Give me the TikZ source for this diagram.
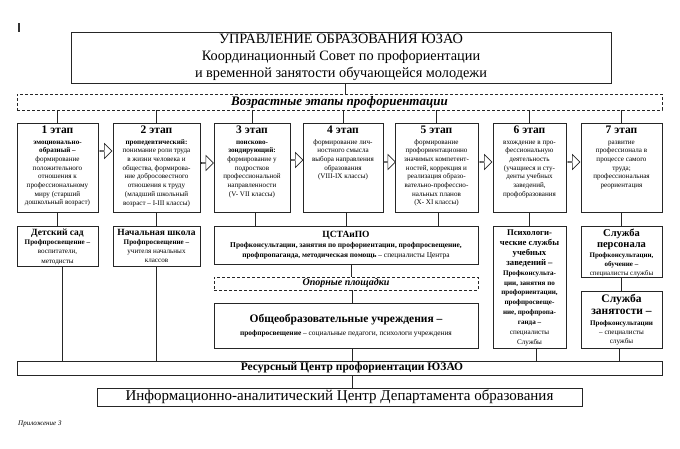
\documentclass[tikz,border=0pt]{standalone}
\usepackage{fontspec}
\setmainfont{Liberation Serif}
\usetikzlibrary{shapes.arrows,calc}
\begin{document}
\begin{tikzpicture}[x=1pt,y=-1pt,
 box/.style={draw=black!85, line width=0.8pt, rectangle, inner sep=0pt, fill=white},
 dbox/.style={draw=black!85, line width=0.7pt, dash pattern=on 3pt off 2pt, rectangle, inner sep=0pt},
 conn/.style={draw=black!85, line width=0.7pt},
 txt/.style={align=center, inner sep=0pt, anchor=north, font=\fontsize{7.1}{8.7}\selectfont},
 sarrow/.style={single arrow, draw=black!85, fill=white, line width=0.6pt, minimum height=12pt, minimum width=15pt, single arrow head extend=3pt, inner sep=0pt},
]
\useasboundingbox[fill=white] (0,0) rectangle (680,448);

% cursor mark
\draw[line width=1.2pt, black!80] (19,23) -- (19,32);

% top box
\node[box, minimum width=540pt, minimum height=51pt, align=center, font=\fontsize{14.3}{17}\selectfont] (top) at (341,57.5)
 {УПРАВЛЕНИЕ ОБРАЗОВАНИЯ ЮЗАО\\Координационный Совет по профориентации\\и временной занятости обучающейся молодежи};

% dashed age stages
\node[dbox, minimum width=645pt, minimum height=16pt, font=\fontsize{13}{14}\selectfont\bfseries\itshape] (stages) at (339.5,102) {Возрастные этапы профориентации};

% stage boxes
\node[box, minimum width=81pt, minimum height=89pt] (s1) at (57.5,167.5) {};
\node[box, minimum width=87pt, minimum height=89pt] (s2) at (156.5,167.5) {};
\node[box, minimum width=76pt, minimum height=89pt] (s3) at (252,167.5) {};
\node[box, minimum width=80pt, minimum height=89pt] (s4) at (343,167.5) {};
\node[box, minimum width=83pt, minimum height=89pt] (s5) at (436.5,167.5) {};
\node[box, minimum width=73pt, minimum height=89pt] (s6) at (529.5,167.5) {};
\node[box, minimum width=81pt, minimum height=89pt] (s7) at (621.5,167.5) {};

\node[txt] (s1t) at ([yshift=-3pt]s1.north) {{\fontsize{11.5}{12}\selectfont\bfseries 1 этап}\\[2pt]
 \textbf{эмоционально-}\\\textbf{образный –}\\формирование\\положительного\\отношения к\\профессиональному\\миру (старший\\дошкольный возраст)};
\node[txt] (s2t) at ([yshift=-3pt]s2.north) {{\fontsize{11.5}{12}\selectfont\bfseries 2 этап}\\[2pt]
 \textbf{пропедевтический:}\\понимание роли труда\\в жизни человека и\\общества, формирова-\\ние добросовестного\\отношения к труду\\(младший школьный\\возраст – I-III классы)};
\node[txt] (s3t) at ([yshift=-3pt]s3.north) {{\fontsize{11.5}{12}\selectfont\bfseries 3 этап}\\[2pt]
 \textbf{поисково-}\\\textbf{зондирующий:}\\формирование у\\подростков\\профессиональной\\направленности\\(V- VII классы)};
\node[txt] (s4t) at ([yshift=-3pt]s4.north) {{\fontsize{11.5}{12}\selectfont\bfseries 4 этап}\\[2pt]
 формирование лич-\\ностного смысла\\выбора направления\\образования\\(VIII-IX классы)};
\node[txt] (s5t) at ([yshift=-3pt]s5.north) {{\fontsize{11.5}{12}\selectfont\bfseries 5 этап}\\[2pt]
 формирование\\профориентационно\\значимых компетент-\\ностей, коррекция и\\реализация образо-\\вательно-профессио-\\нальных планов\\(X- XI классы)};
\node[txt] (s6t) at ([yshift=-3pt]s6.north) {{\fontsize{11.5}{12}\selectfont\bfseries 6 этап}\\[2pt]
 вхождение в про-\\фессиональную\\деятельность\\(учащиеся и сту-\\денты учебных\\заведений,\\профобразования};
\node[txt] (s7t) at ([yshift=-3pt]s7.north) {{\fontsize{11.5}{12}\selectfont\bfseries 7 этап}\\[2pt]
 развитие\\профессионала в\\процессе самого\\труда;\\профессиональная\\реориентация};

% block arrows between stages
\node[sarrow] (a12) at (105.5,151) {};
\node[sarrow] (a23) at (207,163) {};
\node[sarrow] (a34) at (296.5,160) {};
\node[sarrow] (a45) at (389,162) {};
\node[sarrow] (a56) at (485.5,162) {};
\node[sarrow] (a67) at (573.5,162) {};

% second row
\node[box, minimum width=81pt, minimum height=40pt] (det) at (57.5,246) {};
\node[txt, font=\fontsize{7.1}{9.3}\selectfont] (dett) at ([yshift=-3pt]det.north) {{\fontsize{9.5}{10}\selectfont\bfseries Детский сад}\\
 \textbf{Профпросвещение –}\\воспитатели,\\методисты};
\node[box, minimum width=87pt, minimum height=40pt] (nach) at (156.5,246) {};
\node[txt, font=\fontsize{7.1}{9.3}\selectfont] (nacht) at ([yshift=-3pt]nach.north) {{\fontsize{9.5}{10}\selectfont\bfseries Начальная школа}\\
 \textbf{Профпросвещение –}\\учителя начальных\\классов};

\node[box, minimum width=264pt, minimum height=38pt] (cst) at (346,245) {};
\node[txt, font=\fontsize{7.4}{9.8}\selectfont] (cstt) at ([yshift=-5pt]cst.north) {{\fontsize{9.5}{11}\selectfont\bfseries ЦСТАиПО}\\[1pt]
 \textbf{Профконсультации, занятия по профориентации, профпросвещение,}\\
 \textbf{профпропаганда, методическая помощь} – специалисты Центра};

\node[dbox, minimum width=264pt, minimum height=13pt, font=\fontsize{10}{11}\selectfont\bfseries\itshape] (op) at (346,283.5) {Опорные площадки};

\node[box, minimum width=264pt, minimum height=45pt, align=center, font=\fontsize{7.4}{13}\selectfont] (obsh) at (346,325.5)
 {{\fontsize{11.5}{13}\selectfont\bfseries Общеобразовательные учреждения –}\\
 \textbf{профпросвещение} – социальные педагоги, психологи учреждения};

\node[box, minimum width=73pt, minimum height=122pt] (psy) at (529.5,287) {};
\node[txt, font=\fontsize{7.1}{9.9}\selectfont] (psyt) at ([yshift=-4pt]psy.north) {{\fontsize{8.7}{9.9}\selectfont\bfseries Психологи-}\\
 {\fontsize{8.7}{9.9}\selectfont\bfseries ческие службы}\\{\fontsize{8.7}{9.9}\selectfont\bfseries учебных}\\{\fontsize{8.7}{9.9}\selectfont\bfseries заведений –}\\
 \textbf{Профконсульта-}\\\textbf{ции, занятия по}\\\textbf{профориентации,}\\\textbf{профпросвеще-}\\\textbf{ние, профпропа-}\\\textbf{ганда –}\\специалисты\\Службы};

\node[box, minimum width=81pt, minimum height=51pt] (pers) at (621.5,251.5) {};
\node[txt, font=\fontsize{7}{8.8}\selectfont] (perst) at ([yshift=-3pt]pers.north) {{\fontsize{10.5}{10}\selectfont\bfseries Служба}\\[2.5pt]{\fontsize{10.5}{10}\selectfont\bfseries персонала}\\[1pt]
 \textbf{Профконсультации,}\\\textbf{обучение –}\\специалисты службы};

\node[box, minimum width=81pt, minimum height=57pt] (zan) at (621.5,319.5) {};
\node[txt, font=\fontsize{7.1}{9.2}\selectfont] (zant) at ([yshift=-3pt]zan.north) {{\fontsize{11.5}{13}\selectfont\bfseries Служба}\\[3.5pt]{\fontsize{11.5}{13}\selectfont\bfseries занятости –}\\[1.5pt]
 \textbf{Профконсультации}\\– специалисты\\службы};

% bottom boxes
\node[box, minimum width=645pt, minimum height=14pt, font=\fontsize{11.5}{12}\selectfont\bfseries] (res) at (339.5,368) {\hspace*{25pt}Ресурсный Центр профориентации ЮЗАО};
\node[box, minimum width=485pt, minimum height=18pt, font=\fontsize{15}{16}\selectfont] (inf) at (339.5,397) {Информационно-аналитический Центр Департамента образования};

\node[anchor=west, inner sep=0pt, font=\fontsize{7}{8}\selectfont\itshape] (app) at (18,424) {Приложение 3};

% connectors
\draw[conn] ([xshift=4pt]top.south) -- ([xshift=4pt]top.south |- stages.north);
\foreach \s in {s1,s2,s3,s4,s5,s6,s7} {
  \draw[conn] (\s.north |- stages.south) -- (\s.north);
}
\draw[conn] (s1.south) -- (det.north);
\draw[conn] (s2.south) -- (nach.north);
\draw[conn] ([xshift=3pt]s3.south) -- ([xshift=3pt]s3.south |- cst.north);
\draw[conn] ([xshift=3pt]s4.south) -- ([xshift=3pt]s4.south |- cst.north);
\draw[conn] ([xshift=2pt]s5.south) -- ([xshift=2pt]s5.south |- cst.north);
\draw[conn] (s6.south) -- (psy.north);
\draw[conn] (s7.south) -- (pers.north);
\draw[conn] ([xshift=5pt]cst.south) -- ([xshift=5pt]op.north);
\draw[conn] ([xshift=6pt]op.south) -- ([xshift=6pt]obsh.north);
\draw[conn] (pers.south) -- (zan.north);
\draw[conn] ([xshift=5pt]det.south) -- ([xshift=5pt]det.south |- res.north);
\draw[conn] (nach.south) -- (nach.south |- res.north);
\draw[conn] ([xshift=6pt]obsh.south) -- ([xshift=6pt]obsh.south |- res.north);
\draw[conn] ([xshift=7pt]psy.south) -- ([xshift=7pt]psy.south |- res.north);
\draw[conn] ([xshift=-2pt]zan.south) -- ([xshift=-2pt]zan.south |- res.north);
\draw[conn] ([xshift=12.5pt]res.south) -- ([xshift=12.5pt]inf.north);
\end{tikzpicture}
\end{document}
